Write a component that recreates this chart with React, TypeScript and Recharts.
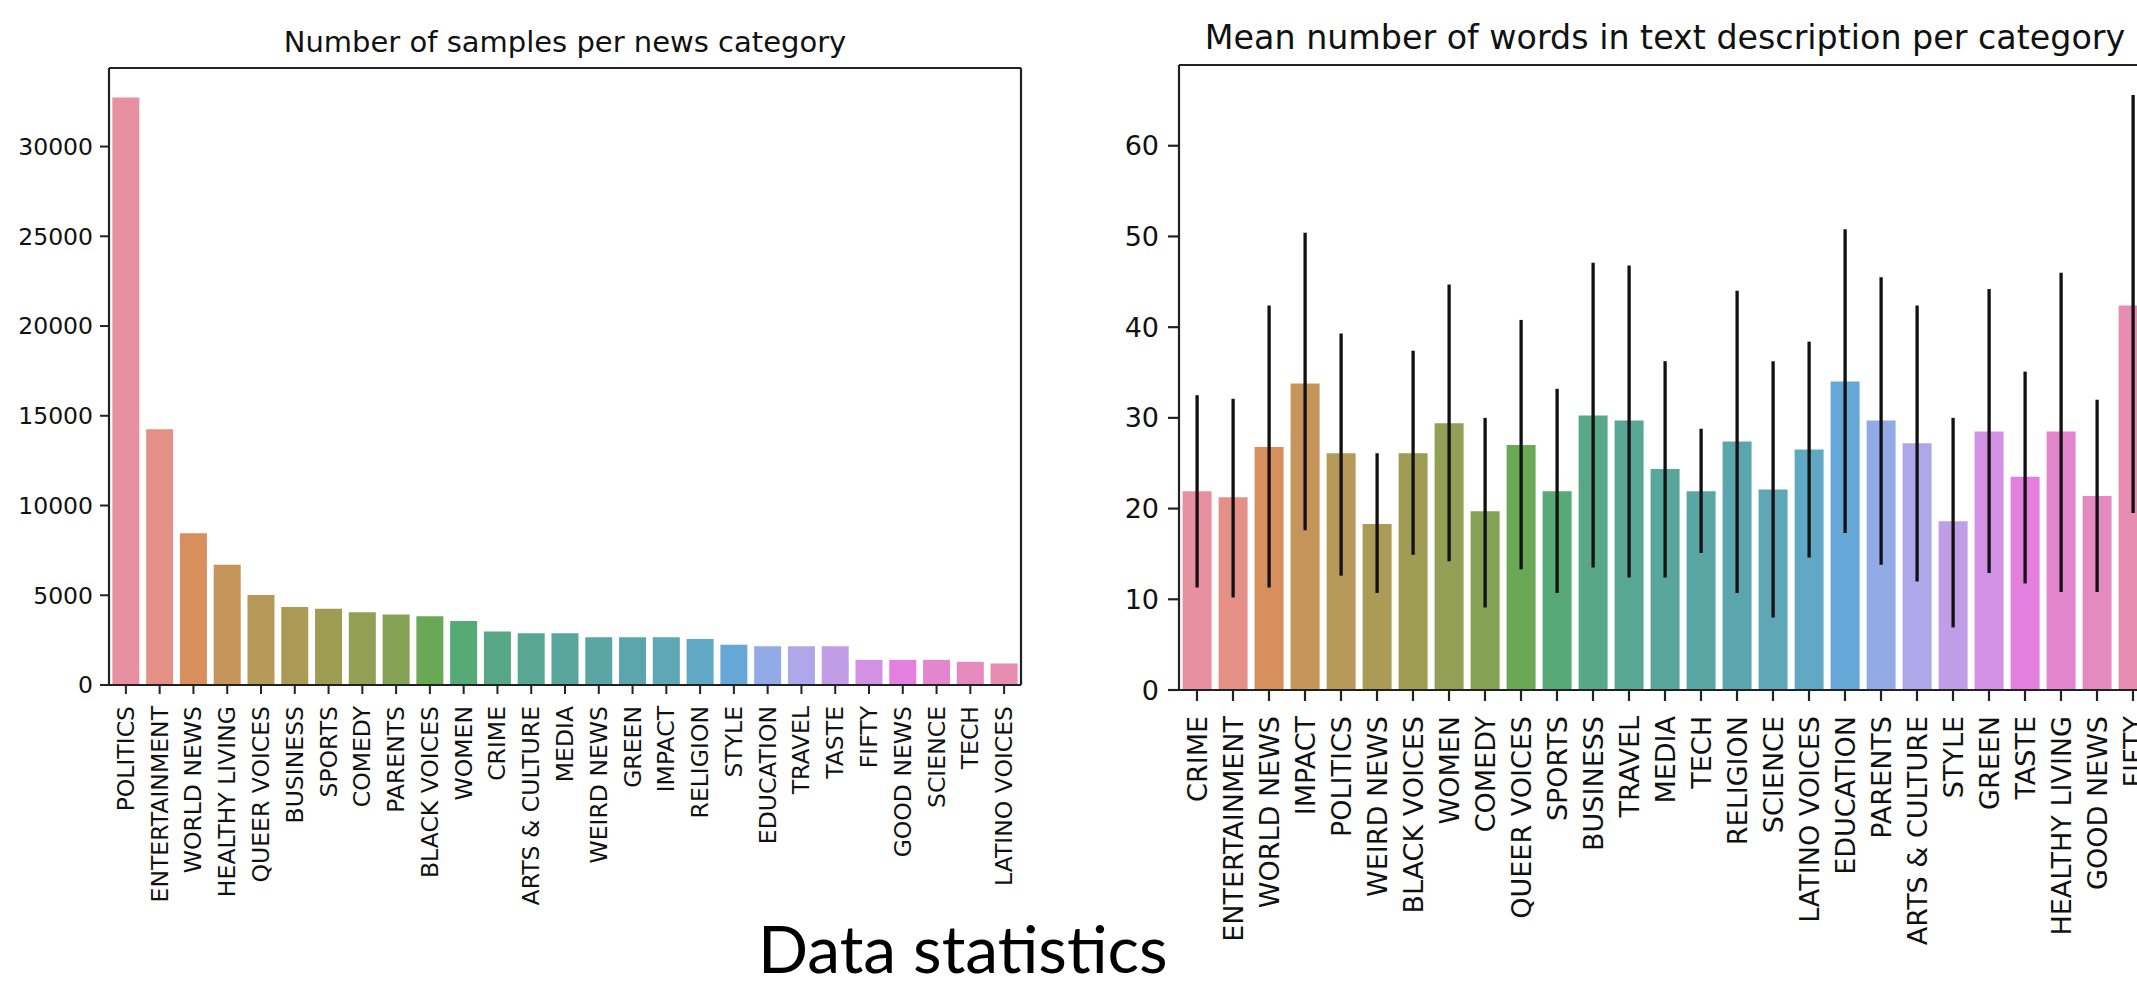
import { BarChart, Bar, XAxis, YAxis, Cell, ErrorBar } from "recharts"

// left panel: number of samples per category
const countCategories = [
  "POLITICS", "ENTERTAINMENT", "WORLD NEWS", "HEALTHY LIVING", "QUEER VOICES", "BUSINESS",
  "SPORTS", "COMEDY", "PARENTS", "BLACK VOICES", "WOMEN", "CRIME", "ARTS & CULTURE", "MEDIA",
  "WEIRD NEWS", "GREEN", "IMPACT", "RELIGION", "STYLE", "EDUCATION", "TRAVEL", "TASTE",
  "FIFTY", "GOOD NEWS", "SCIENCE", "TECH", "LATINO VOICES",
]
const countValues = [
  32739, 14250, 8450, 6694, 5020, 4350, 4250, 4050, 3930, 3830, 3560, 2980, 2885, 2885,
  2660, 2660, 2660, 2560, 2240, 2165, 2165, 2165, 1401, 1398, 1400, 1290, 1200,
]
const countTicks = [0, 5000, 10000, 15000, 20000, 25000, 30000]

// right panel: mean words in description, with error bar ends
const wordCategories = [
  "CRIME", "ENTERTAINMENT", "WORLD NEWS", "IMPACT", "POLITICS", "WEIRD NEWS", "BLACK VOICES",
  "WOMEN", "COMEDY", "QUEER VOICES", "SPORTS", "BUSINESS", "TRAVEL", "MEDIA", "TECH",
  "RELIGION", "SCIENCE", "LATINO VOICES", "EDUCATION", "PARENTS", "ARTS & CULTURE", "STYLE",
  "GREEN", "TASTE", "HEALTHY LIVING", "GOOD NEWS", "FIFTY",
]
const wordMeans = [
  21.9, 21.25, 26.8, 33.8, 26.1, 18.3, 26.1, 29.4, 19.7, 27.0, 21.9, 30.25, 29.7, 24.35,
  21.9, 27.4, 22.1, 26.5, 34.0, 29.7, 27.2, 18.6, 28.5, 23.5, 28.5, 21.4, 42.4,
]
const wordLow = [
  11.3, 10.2, 11.3, 17.6, 12.6, 10.7, 14.9, 14.2, 9.1, 13.3, 10.7, 13.5, 12.4, 12.4,
  15.1, 10.7, 8.0, 14.6, 17.3, 13.8, 11.95, 6.9, 12.9, 11.75, 10.8, 10.8, 19.5,
]
const wordHigh = [
  32.5, 32.1, 42.4, 50.4, 39.3, 26.1, 37.4, 44.7, 30.0, 40.8, 33.2, 47.1, 46.8, 36.25,
  28.8, 44.0, 36.25, 38.4, 50.8, 45.5, 42.4, 30.0, 44.2, 35.1, 46.0, 32.0, 65.6,
]
const wordTicks = [0, 10, 20, 30, 40, 50, 60]

// seaborn "husl" palette (h=.01, s=.9, l=.65), desaturated like barplot does
const mHusl = [
  [3.2406, -1.5372, -0.4986],
  [-0.9689, 1.8758, 0.0415],
  [0.0557, -0.204, 1.057],
]
function maxChroma(L: number, H: number) {
  const hrad = (H * Math.PI) / 180
  const sinH = Math.sin(hrad)
  const cosH = Math.cos(hrad)
  const sub1 = Math.pow(L + 16, 3) / 1560896
  const sub2 = sub1 > 0.008856 ? sub1 : L / 903.3
  let result = Infinity
  for (const [m1, m2, m3] of mHusl) {
    const top = (0.99915 * m1 + 1.05122 * m2 + 1.1446 * m3) * sub2
    const rbottom = 0.8633 * m3 - 0.17266 * m2
    const lbottom = 0.12949 * m3 - 0.38848 * m1
    const bottom = (rbottom * sinH + lbottom * cosH) * sub2
    for (const t of [0, 1]) {
      const C = (L * (top - 1.05122 * t)) / (bottom + 0.17266 * sinH * t)
      if (C > 0 && C < result) result = C
    }
  }
  return result
}
function huslToHex(H: number, S: number, L: number) {
  const C = (maxChroma(L, H) / 100) * S
  const hrad = (H * Math.PI) / 180
  const U = C * Math.cos(hrad)
  const V = C * Math.sin(hrad)
  const t = (L + 16) / 116
  const Y = t * t * t > 0.008856 ? t * t * t : (116 * t - 16) / 903.3
  const varU = U / (13 * L) + 0.19784
  const varV = V / (13 * L) + 0.46832
  const X = -(9 * Y * varU) / ((varU - 4) * varV - varU * varV)
  const Z = (9 * Y - 15 * varV * Y - varV * X) / (3 * varV)
  const rgb = mHusl.map(([a, b, c]) => {
    const lin = a * X + b * Y + c * Z
    const v = lin <= 0.0031308 ? 12.92 * lin : 1.055 * Math.pow(lin, 1 / 2.4) - 0.055
    return Math.min(1, Math.max(0, v))
  })
  const light = (Math.max(...rgb) + Math.min(...rgb)) / 2
  return (
    "#" +
    rgb
      .map((v) => {
        const d = light + 0.72 * (v - light)
        const lifted = d + 0.1 * (1 - d)
        return Math.round(lifted * 255).toString(16).padStart(2, "0")
      })
      .join("")
  )
}
const palette = countCategories.map((_, i) => huslToHex(((i / 27 + 0.01) % 1) * 359, 89.1, 64.35))

const countData = countCategories.map((cat, i) => ({ cat, valor: countValues[i] }))
const wordData = wordCategories.map((cat, i) => ({
  cat,
  media: wordMeans[i],
  erro: [wordMeans[i] - wordLow[i], wordHigh[i] - wordMeans[i]],
}))

const eixo = "#222"
const fonte = "DejaVu Sans, sans-serif"

function RotatedTick(props: any) {
  const { x, y, payload, size } = props
  return (
    <text
      x={x}
      y={y}
      transform={`rotate(-90, ${x}, ${y})`}
      textAnchor="end"
      dominantBaseline="central"
      style={{ fontSize: size, fontFamily: fonte }}
      fill="#111"
    >
      {payload.value}
    </text>
  )
}

export default function App() {
  return (
    <div
      style={{
        position: "absolute",
        left: 0,
        top: 0,
        width: 2137,
        height: 984,
        overflow: "hidden",
        background: "#fff",
      }}
    >
      <div style={{ position: "absolute", left: 0, top: 0, width: 1040, height: 984 }}>
        <BarChart
          width={1040}
          height={984}
          data={countData}
          margin={{ top: 67, right: 18, bottom: 0, left: 0 }}
          barCategoryGap="10%"
        >
          <XAxis
            dataKey="cat"
            interval={0}
            height={299}
            tickSize={9}
            tickMargin={12}
            axisLine={{ stroke: eixo, strokeWidth: 2.2 }}
            tickLine={{ stroke: eixo, strokeWidth: 2 }}
            tick={(p: any) => <RotatedTick {...p} size={23.5} />}
          />
          <XAxis xAxisId="top" orientation="top" dataKey="cat" height={1} tick={false} tickLine={false}
            axisLine={{ stroke: eixo, strokeWidth: 2.2 }} />
          <YAxis
            width={109}
            domain={[0, 34376]}
            ticks={countTicks}
            tickSize={9}
            tickMargin={7}
            axisLine={{ stroke: eixo, strokeWidth: 2.2 }}
            tickLine={{ stroke: eixo, strokeWidth: 2 }}
            tick={{ fill: "#111", fontSize: 23.5, fontFamily: fonte }}
          />
          <YAxis yAxisId="right" orientation="right" width={1} domain={[0, 34376]} tick={false} tickLine={false}
            axisLine={{ stroke: eixo, strokeWidth: 2.2 }} />
          <Bar dataKey="valor" isAnimationActive={false}>
            {countData.map((d, i) => (
              <Cell key={d.cat} fill={palette[i]} />
            ))}
          </Bar>
        </BarChart>
      </div>

      <div style={{ position: "absolute", left: 1079, top: 0, width: 1082, height: 984 }}>
        <BarChart
          width={1082}
          height={984}
          data={wordData}
          margin={{ top: 64, right: 9, bottom: 0, left: 0 }}
          barCategoryGap="10%"
        >
          <XAxis
            dataKey="cat"
            interval={0}
            height={294}
            tickSize={11}
            tickMargin={15}
            axisLine={{ stroke: eixo, strokeWidth: 2.2 }}
            tickLine={{ stroke: eixo, strokeWidth: 2.2 }}
            tick={(p: any) => <RotatedTick {...p} size={27} />}
          />
          <XAxis xAxisId="top" orientation="top" dataKey="cat" height={1} tick={false} tickLine={false}
            axisLine={{ stroke: eixo, strokeWidth: 2.2 }} />
          <YAxis
            width={100}
            domain={[0, 68.9]}
            ticks={wordTicks}
            tickSize={11}
            tickMargin={9}
            axisLine={{ stroke: eixo, strokeWidth: 2.2 }}
            tickLine={{ stroke: eixo, strokeWidth: 2.2 }}
            tick={{ fill: "#111", fontSize: 27, fontFamily: fonte }}
          />
          <YAxis yAxisId="right" orientation="right" width={1} domain={[0, 68.9]} tick={false} tickLine={false}
            axisLine={{ stroke: eixo, strokeWidth: 2.2 }} />
          <Bar dataKey="media" isAnimationActive={false}>
            {wordData.map((d, i) => (
              <Cell key={d.cat} fill={palette[i]} />
            ))}
            <ErrorBar dataKey="erro" width={0} stroke="#111" strokeWidth={3.3} direction="y" />
          </Bar>
        </BarChart>
      </div>

      <svg width={2137} height={984} style={{ position: "absolute", left: 0, top: 0, pointerEvents: "none" }}>
        <text x={565} y={52} textAnchor="middle" fontSize={29} fontFamily={fonte} fill="#111">
          Number of samples per news category
        </text>
        <text x={1665} y={49} textAnchor="middle" fontSize={33.3} fontFamily={fonte} fill="#111">
          Mean number of words in text description per category
        </text>
        <text x={758} y={973} fontSize={66} fontFamily="Lato, sans-serif" fill="#000">
          Data statistics
        </text>
      </svg>
    </div>
  )
}
